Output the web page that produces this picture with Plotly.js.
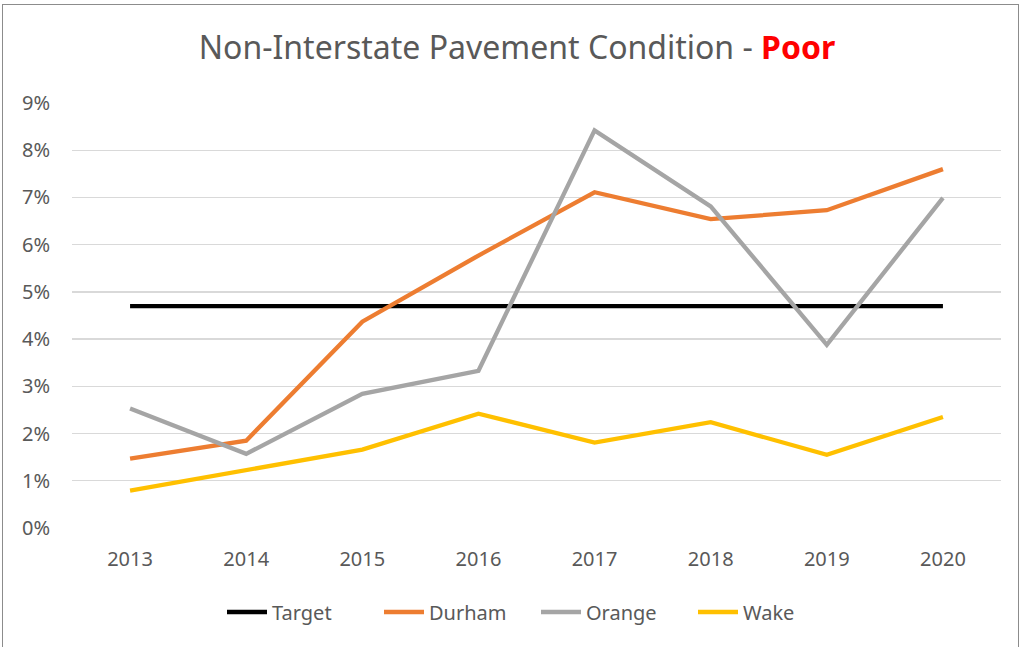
<!DOCTYPE html>
<html>
<head>
<meta charset="utf-8">
<script src="https://cdn.plot.ly/plotly-3.0.1.min.js"></script>
<style>
  html, body { margin: 0; padding: 0; background: #fff; }
  #frame { position: absolute; left: 2px; top: 4px; width: 1017px; height: 645px; border: 1.5px solid #8c8c8c; box-sizing: border-box; }
  #chart { position: absolute; left: 0; top: 0; width: 1023px; height: 647px; }
</style>
</head>
<body>
<div id="chart"></div>
<div id="frame"></div>
<script>
const years = ['2013', '2014', '2015', '2016', '2017', '2018', '2019', '2020'];
const target = [0.047, 0.047, 0.047, 0.047, 0.047, 0.047, 0.047, 0.047];
const durham = [0.0147, 0.0185, 0.0437, 0.0577, 0.0711, 0.0654, 0.0673, 0.0760];
const orange = [0.0253, 0.0157, 0.0284, 0.0333, 0.0842, 0.0681, 0.0388, 0.0699];
const wake   = [0.0079, 0.0123, 0.0166, 0.0242, 0.0181, 0.0224, 0.0155, 0.0235];
const yTicks = [0, 0.01, 0.02, 0.03, 0.04, 0.05, 0.06, 0.07, 0.08, 0.09];

const font = '"Noto Sans", "Open Sans", sans-serif';
const mk = (name, y, color) => ({
  type: 'scatter', mode: 'lines', name: name, x: years, y: y,
  line: { color: color, width: 4.3 }
});
const data = [
  mk('Target', target, '#000000'),
  mk('Durham', durham, '#ED7D31'),
  mk('Orange', orange, '#A5A5A5'),
  mk('Wake', wake, '#FFC000')
];
const layout = {
  width: 1023, height: 647,
  margin: { l: 72, r: 22, t: 103, b: 119 },
  paper_bgcolor: '#ffffff', plot_bgcolor: '#ffffff',
  font: { family: font, color: '#595959', size: 20 },
  title: {
    text: 'Non-Interstate Pavement Condition - <b><span style="color:#FF0000">Poor</span></b>',
    font: { family: font, size: 32, color: '#595959' },
    x: (517 - 72) / 929, xanchor: 'center', xref: 'paper',
    y: 1 - 48 / 647, yanchor: 'middle', yref: 'container'
  },
  xaxis: {
    type: 'category', range: [-0.5, 7.5],
    showgrid: false, zeroline: false, showline: false,
    ticks: '', tickfont: { size: 20, color: '#595959' }, ticklabelstandoff: 17
  },
  yaxis: {
    range: [0, 0.09], tickvals: yTicks, tickformat: '.0%',
    showgrid: true, gridcolor: '#D9D9D9', gridwidth: 1.3,
    zeroline: false, showline: false, ticks: '',
    tickfont: { size: 20, color: '#595959' }, ticklabelstandoff: 21
  },
  legend: {
    orientation: 'h', x: (229 - 72 - 7) / 929, xanchor: 'left',
    y: 1 - (612 - 103) / (528 - 103), yanchor: 'middle',
    font: { size: 20, color: '#595959' }, itemwidth: 40, tracegroupgap: 0,
    entrywidth: 102, entrywidthmode: 'pixels'
  },
  showlegend: true
};
Plotly.newPlot('chart', data, layout, { displayModeBar: false, staticPlot: true });
</script>
</body>
</html>
